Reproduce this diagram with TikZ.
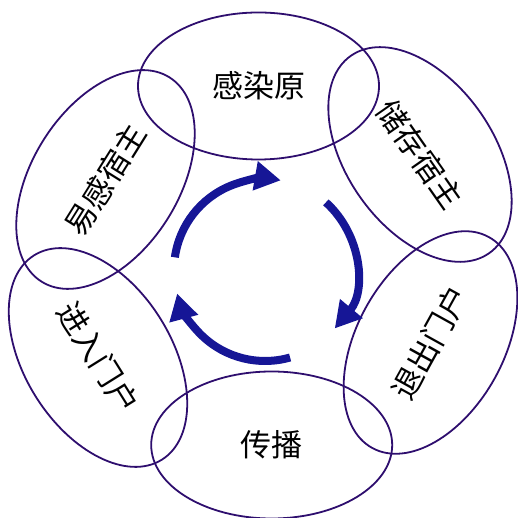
\documentclass[tikz,border=0pt]{standalone}
\usepackage{fontspec}
\setmainfont{Noto Sans CJK SC}
\usetikzlibrary{shapes.geometric,arrows.meta}
\definecolor{ringcol}{RGB}{46,14,110}
\definecolor{arrowcol}{RGB}{22,22,150}
\begin{document}
\begin{tikzpicture}[x=1pt,y=1pt,
  ring/.style={draw=ringcol, line width=1.8pt, ellipse, inner sep=0pt,
    minimum width=241pt, minimum height=147pt,
    font=\fontsize{31}{31}\selectfont, text=black},
  cyc/.style={draw=arrowcol, line width=8pt,
    -{Triangle[length=26pt,width=28pt]}}]
\useasboundingbox (0,0) rectangle (517,518);
\node[ring] (src) at (258.5,432) {感染原};
\node[ring, rotate=-55] (res) at (420,363.5) {储存宿主};
\node[ring, rotate=61] (exitp) at (430.5,175.5) {退出门户};
\node[ring] (trans) at (271.7,73) {传播};
\node[ring, rotate=-58] (entry) at (98,160.5) {进入门户};
\node[ring, rotate=58] (host) at (105.5,338.5) {易感宿主};
\coordinate (c) at (265,248);
\draw[cyc] ([shift={(172:91)}]c) arc[start angle=172, end angle=80, radius=91];
\draw[cyc] ([shift={(48:91)}]c) arc[start angle=48, end angle=-40, radius=91];
\draw[cyc] ([shift={(-74:91)}]c) arc[start angle=-74, end angle=-165, radius=91];
\end{tikzpicture}
\end{document}
